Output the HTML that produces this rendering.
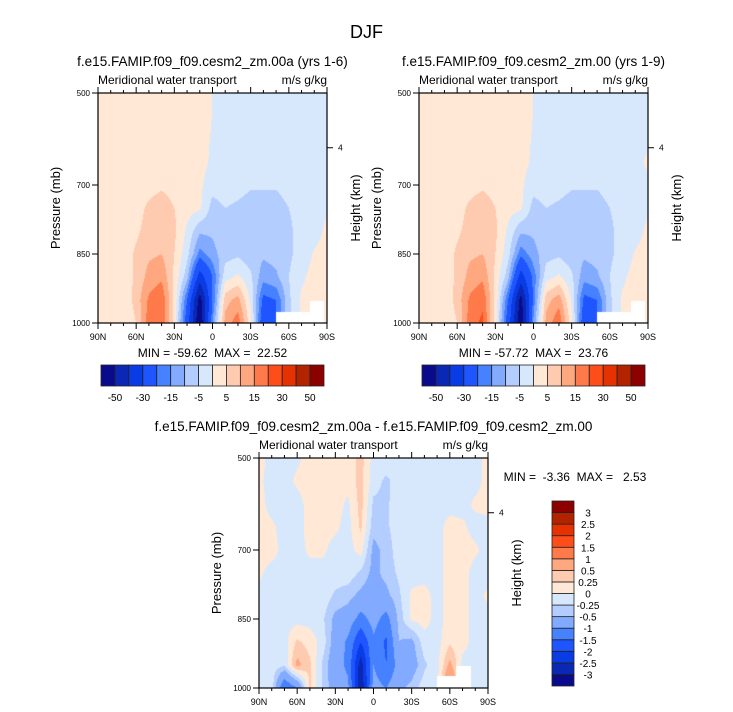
<!DOCTYPE html>
<html><head><meta charset="utf-8">
<style>
html,body{margin:0;padding:0;background:#fff;}
#root{position:relative;width:733px;height:712px;overflow:hidden;font-family:"Liberation Sans",sans-serif;}
canvas{position:absolute;}
svg{position:absolute;left:0;top:0;}
text{white-space:pre;}
</style></head>
<body>
<div id="root">
<canvas id="c1" width="229" height="230" style="left:98px;top:93px"></canvas>
<canvas id="c2" width="229" height="230" style="left:419px;top:93px"></canvas>
<canvas id="c3" width="229" height="230" style="left:259px;top:458px"></canvas>
<svg id="s" width="733" height="712"></svg>
</div>
<script>
// ---- data ----
const lats = [90,80,70,60,50,40,30,20,10,0,-10,-20,-30,-40,-50,-60,-70,-80,-90];
const pressures = [500,550,600,650,700,750,800,850,900,950,1000];
const levelsMain = [-50,-40,-30,-20,-15,-10,-5,0,5,10,15,20,30,40,50];
const labelsMain = ["-50","-30","-15","-5","5","15","30","50"];
const levelsDiff = [-3,-2.5,-2,-1.5,-1,-0.5,-0.25,0,0.25,0.5,1,1.5,2,2.5,3];
const labelsDiff = ["-3","-2.5","-2","-1.5","-1","-0.5","-0.25","0","0.25","0.5","1","1.5","2","2.5","3"];
const palette = ["#0a0a8c","#0a28b4","#0a3ce6","#1e55ff","#4682ff","#82aaff","#b4cdff","#d8e8fc","#ffe8d6","#ffcbb0","#ffa87f","#ff7a4a","#ff4d1a","#e63200","#b42300","#8c0000"];
const field00a = [
 [2,2,2,2,2,2,2,2,2,-0.1,-2,-2,-2,-2,-2,-2,-2,-2,-2],
 [2,2,2,2,2,2,2,2,2,-0.1,-2,-2,-2,-2,-2,-2,-2,-2,-2],
 [2,2,2,2,2,2,2,2,2,-0.5,-2,-2,-2,-2,-2,-2,-2,-2,-1],
 [2,2,2,2,2,2,2,2,2,-1,-2,-2,-2,-2,-2,-2,-2,-2,-1],
 [2,2,2,2,3,4,3,2,1,-3,-2,-3,-4.5,-4.5,-4.5,-3,-2,-2,-1],
 [2,2,2,3,6,8,5,2,1,-7,-5,-6,-7,-7,-7,-5,-3,-2,-0.5],
 [2,2,2,4,7,9,6,-1,-9,-9,-6,-5.5,-8,-8,-7,-6,-3,-2,1],
 [2,2,2,6,9,10,5,-3,-17,-12,-7,-6,-8,-9,-8,-6,-3,0.5,2],
 [2,2,2,6,12,14,4,-8,-35,-20,-2,1,-4,-13,-11,-5,-1,2,2],
 [2,2,1,7,16,19,4,-20,-55,-20,8,12,-1,-22,-20,-6,1,2,2],
 [2,2,0,5,18,20,3,-25,-60,-15,12,18,2,-27,-20,-6,1,2,2]
];
const field00 = [
 [2,2,2,2,2,2,2,2,2,-0.1,-2,-2,-2,-2,-2,-2,-2,-2,-2],
 [2,2,2,2,2,2,2,2,2,-0.1,-2,-2,-2,-2,-2,-2,-2,-2,-2],
 [2,2,2,2,2,2,2,2,2,-0.5,-2,-2,-2,-2,-2,-2,-2,-2,-1],
 [2,2,2,2,2,2,2,2,2,-1,-2,-2,-2,-2,-2,-2,-2,-2,1],
 [2,2,2,2,3,4,3,2,1,-3,-2,-3,-4.5,-4.5,-4.5,-3,-2,-2,-1],
 [2,2,2,3,6,8,5,2,1,-7,-5,-6,-7,-7,-7,-5,-3,-2,-0.5],
 [2,2,2,4,7,9,6,-1,-9,-9,-6,-5.5,-8,-8,-7,-6,-3,-2,1],
 [2,2,2,6,9,10,5,-3,-18,-12,-7,-6,-8,-9,-8,-6,-3,0.5,2],
 [2,2,2,6,12,14,4,-8,-35,-18,-2,1,-4,-13,-11,-5,-1,2,2],
 [2,2,1,7,16,19,4,-20,-54,-18,8,13,-1,-22,-20,-6,1,2,2],
 [2,2,0,5,18,21,3,-25,-58,-14,12,19,2,-27,-20,-6,1,2,2]
];
const fieldDiff = [
 [0.1,-0.1,-0.1,-0.05,0.1,0.1,0.1,0.1,0.35,-0.1,-0.1,-0.1,-0.1,-0.1,-0.1,-0.1,-0.1,-0.1,0.1],
 [0.05,-0.1,-0.1,0.05,0.1,0.1,0.1,0.1,0.35,-0.15,-0.3,-0.15,-0.1,-0.1,-0.1,-0.1,-0.1,-0.1,0.1],
 [0.1,-0.1,-0.1,-0.1,0.1,0.1,0.1,-0.05,0.35,-0.3,-0.3,-0.1,-0.1,-0.1,-0.1,-0.1,-0.1,0.05,0.1],
 [0.1,0.05,-0.1,-0.1,0.1,0.1,0.05,-0.1,0.3,-0.4,-0.3,-0.1,-0.1,-0.1,-0.1,0.1,0.05,-0.1,-0.1],
 [0.1,0.1,-0.1,-0.1,0.05,0.05,-0.1,-0.1,0.1,-0.6,-0.4,-0.1,-0.1,-0.1,-0.1,0.1,0.1,0.05,-0.1],
 [0.05,-0.1,-0.1,-0.1,-0.1,-0.1,-0.1,-0.1,-0.3,-0.6,-0.4,-0.2,-0.1,-0.1,-0.1,0.1,0.1,-0.1,-0.1],
 [-0.1,-0.1,-0.1,-0.1,-0.1,-0.1,-0.3,-0.4,-0.6,-0.7,-0.6,-0.3,0.05,0.1,-0.1,0.1,0.1,-0.1,0.05],
 [-0.1,-0.1,-0.1,-0.1,-0.1,-0.2,-0.6,-0.7,-1.2,-0.8,-1.2,-0.4,0.05,0.1,-0.1,0.1,0.1,-0.1,-0.1],
 [-0.1,-0.1,-0.1,0.3,0.15,-0.1,-0.7,-1.1,-2.0,-1.1,-1.6,-0.5,-0.6,-0.1,-0.1,0.2,0.1,-0.1,-0.1],
 [-0.1,-0.1,-0.2,0.6,0.3,-0.3,-0.8,-1.1,-2.8,-1.0,-1.5,-0.8,-0.7,-0.3,-0.1,0.6,-0.1,-0.1,-0.1],
 [-0.1,-0.1,-1.5,-1.0,0.3,-0.3,-0.7,-0.9,-3.0,-0.8,-1.0,-0.6,-0.4,-0.1,-0.1,1.2,-0.1,-0.1,-0.1]
];
// missing (below-ground) regions: [latFrom, latTo, pressureFrom]
const missingMain = [[-50,-77,977],[-77,-88,952]];
const missingDiff = [[-50,-65,975],[-65,-77,953]];

// ---- axes helpers ----
const W=229,H=230;
function xOf(lat){return (90-lat)/180*W;}
function yOf(p){return (p-500)/500*H;}
function sample(field,lat,p){
  let fi=(90-lat)/10, fj=(p-500)/50;
  fi=Math.max(0,Math.min(18,fi)); fj=Math.max(0,Math.min(10,fj));
  const i0=Math.min(17,Math.floor(fi)), j0=Math.min(9,Math.floor(fj));
  const a=fi-i0,b=fj-j0;
  return field[j0][i0]*(1-a)*(1-b)+field[j0][i0+1]*a*(1-b)+field[j0+1][i0]*(1-a)*b+field[j0+1][i0+1]*a*b;
}
function colorIdx(v,lev){let k=0;while(k<lev.length&&v>=lev[k])k++;return k;}
function hex(c){return [parseInt(c.substr(1,2),16),parseInt(c.substr(3,2),16),parseInt(c.substr(5,2),16)];}
const rgb=palette.map(hex);
function drawField(id,field,lev,missing){
  const cv=document.getElementById(id),ctx=cv.getContext('2d');
  const img=ctx.createImageData(W,H);
  for(let y=0;y<H;y++)for(let x=0;x<W;x++){
    const lat=90-(x+0.5)/W*180, p=500+(y+0.5)/H*500;
    let c=rgb[colorIdx(sample(field,lat,p),lev)];
    for(const m of missing){ if(lat<=m[0]&&lat>=m[1]&&p>=m[2]) c=[255,255,255]; }
    const o=(y*W+x)*4; img.data[o]=c[0];img.data[o+1]=c[1];img.data[o+2]=c[2];img.data[o+3]=255;
  }
  ctx.putImageData(img,0,0);
}
drawField('c1',field00a,levelsMain,missingMain);
drawField('c2',field00,levelsMain,missingMain);
drawField('c3',fieldDiff,levelsDiff,missingDiff);

// ---- svg annotations ----
const NS="http://www.w3.org/2000/svg", S=document.getElementById('s');
function el(tag,attrs,text){const e=document.createElementNS(NS,tag);for(const k in attrs)e.setAttribute(k,attrs[k]);if(text!==undefined)e.textContent=text;S.appendChild(e);return e;}
function txt(x,y,s,size,anchor,name,extra){
  const t=el('text',Object.assign({x:x,y:y,'font-size':size,'text-anchor':anchor||'start',fill:'#000','font-family':'"Liberation Sans",sans-serif'},extra||{}),s);
  
  
  return t;
}
function panel(x0,y0,title,minmax,tag){
  const f=el('rect',{x:x0,y:y0,width:W,height:H,fill:'none',stroke:'#000','stroke-width':1.2});
  
  
  txt(x0+W/2,y0-27,title,13.5,'middle',tag+'-title');
  txt(x0,y0-9,'Meridional water transport',12,'start',tag+'-long-name');
  txt(x0+W,y0-9,'m/s g/kg',12,'end',tag+'-units');
  for(let lat=90;lat>=-90;lat-=10){
    const x=x0+xOf(lat), major=(lat%30===0), len=major?6:3;
    el('line',{x1:x,x2:x,y1:y0+H,y2:y0+H+len,stroke:'#000','stroke-width':1});
    el('line',{x1:x,x2:x,y1:y0,y2:y0-len,stroke:'#000','stroke-width':1});
    if(major){const lab=lat===0?'0':(Math.abs(lat)+(lat>0?'N':'S'));txt(x,y0+H+17,lab,9,'middle',tag+'-x-tick-label');}
  }
  [500,700,850,1000].forEach(p=>{
    const y=y0+yOf(p);
    el('line',{x1:x0-6,x2:x0,y1:y,y2:y,stroke:'#000','stroke-width':1});
    txt(x0-8,y+3,String(p),8,'end',tag+'-y-tick-label');
  });
  const y4=y0+yOf(619);
  el('line',{x1:x0+W,x2:x0+W+6,y1:y4,y2:y4,stroke:'#000','stroke-width':1});
  txt(x0+W+11,y4+3,'4',8.5,'start',tag+'-height-tick-label');
  txt(0,0,'Pressure (mb)',13,'middle',tag+'-y-axis-title',{transform:`translate(${x0-38},${y0+H/2}) rotate(-90)`});
  txt(0,0,'Height (km)',13,'middle',tag+'-right-axis-title',{transform:`translate(${x0+W+33},${y0+H/2}) rotate(-90)`});
  if(minmax) txt(x0+W/2,y0+H+34,minmax,12,'middle',tag+'-min-max');
}
txt(366.5,38,'DJF',18,'middle','figure-title');
panel(98,93,'f.e15.FAMIP.f09_f09.cesm2_zm.00a (yrs 1-6)','MIN = -59.62  MAX =  22.52','panel-00a');
panel(419,93,'f.e15.FAMIP.f09_f09.cesm2_zm.00 (yrs 1-9)','MIN = -57.72  MAX =  23.76','panel-00');
panel(259,458,'f.e15.FAMIP.f09_f09.cesm2_zm.00a - f.e15.FAMIP.f09_f09.cesm2_zm.00',null,'panel-diff');
txt(575,481,'MIN =  -3.36  MAX =   2.53',12,'middle','panel-diff-min-max');

function hbar(x0,y0,w,h,tag){
  const bw=w/palette.length;
  palette.forEach((c,i)=>{
    const r=el('rect',{x:x0+i*bw,y:y0,width:bw,height:h,fill:c,stroke:'#222','stroke-width':0.8});
    
    
  });
  labelsMain.forEach((l,k)=>txt(x0+(2*k+1)*bw,y0+h+15,l,10,'middle',tag+'-label'));
}
hbar(101,365,223,21,'colorbar-00a');
hbar(422,365,223,21,'colorbar-00');
(function(){
  const x0=552,y0=501,w=22,h=185,bh=h/palette.length;
  palette.forEach((c,i)=>{
    const r=el('rect',{x:x0,y:y0+(palette.length-1-i)*bh,width:w,height:bh,fill:c,stroke:'#222','stroke-width':0.8});
    
    
  });
  labelsDiff.forEach((l,k)=>txt(588,y0+(palette.length-1-k)*bh+4,l,10,'middle','colorbar-diff-label'));
})();
</script>
</body></html>
